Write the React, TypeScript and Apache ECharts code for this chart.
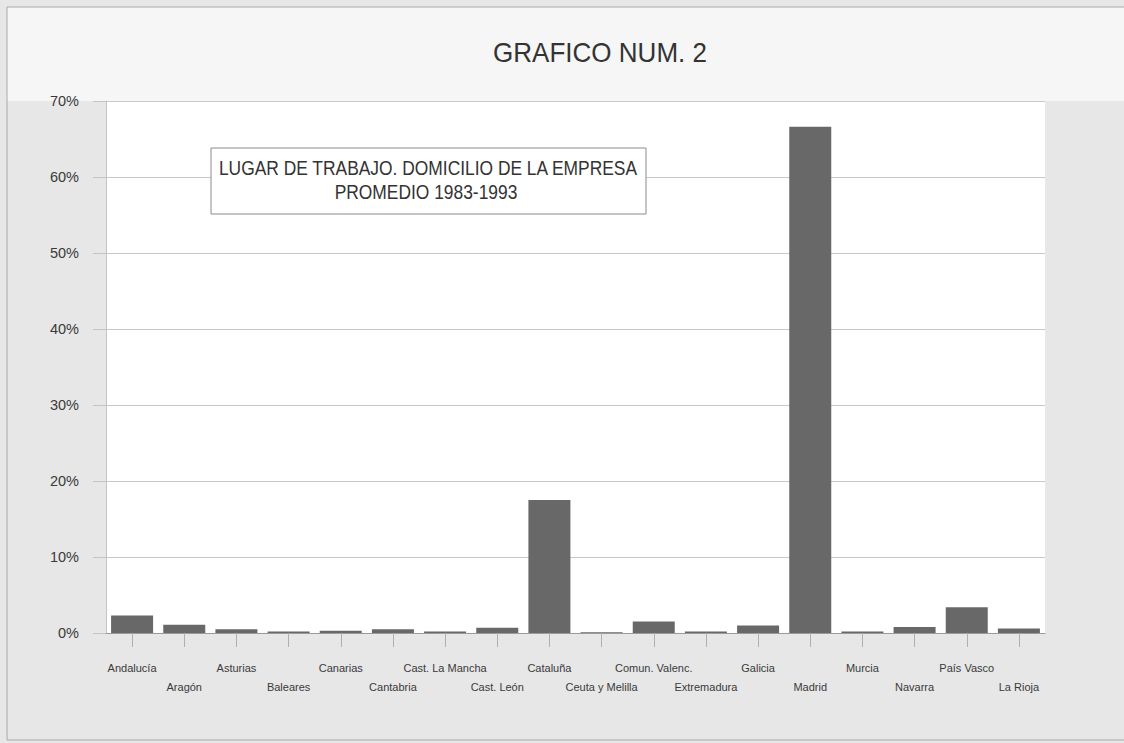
import React, { useEffect, useRef } from "react";
import * as echarts from "echarts";

const categories = [
  "Andalucía",
  "Aragón",
  "Asturias",
  "Baleares",
  "Canarias",
  "Cantabria",
  "Cast. La Mancha",
  "Cast. León",
  "Cataluña",
  "Ceuta y Melilla",
  "Comun. Valenc.",
  "Extremadura",
  "Galicia",
  "Madrid",
  "Murcia",
  "Navarra",
  "País Vasco",
  "La Rioja",
];
const values = [2.3, 1.1, 0.5, 0.2, 0.3, 0.5, 0.2, 0.7, 17.5, 0.1, 1.5, 0.2, 1.0, 66.6, 0.2, 0.8, 3.4, 0.6];

const chartTitle = "GRAFICO NUM. 2";
const boxLines = ["LUGAR DE TRABAJO. DOMICILIO DE LA EMPRESA", "PROMEDIO 1983-1993"];

const SANS = "'Liberation Sans', Arial, sans-serif";

export default function App() {
  const ref = useRef<HTMLDivElement>(null);
  useEffect(() => {
    document.body.style.margin = "0";
    const chart = echarts.init(ref.current!, null, { renderer: "svg" });
    chart.setOption({
      animation: false,
      backgroundColor: "#e7e7e7",
      graphic: [
        { type: "rect", z: -100, shape: { x: 7, y: 7, width: 1130, height: 94 }, style: { fill: "#f6f6f6" } },
        { type: "rect", z: -99, shape: { x: 7, y: 7, width: 1130, height: 733 }, style: { fill: "none", stroke: "#a8a8a8", lineWidth: 1 } },
        {
          type: "text",
          z: 100,
          x: 600,
          y: 53,
          scaleX: 0.93,
          style: { text: chartTitle, fontFamily: SANS, fontSize: 28, fill: "#333", align: "center", verticalAlign: "middle" },
        },
        { type: "rect", z: 100, shape: { x: 211, y: 148, width: 435, height: 66 }, style: { fill: "#fff", stroke: "#8a8a8a", lineWidth: 1 } },
        {
          type: "text",
          z: 101,
          x: 428,
          y: 168,
          scaleX: 0.87,
          style: { text: boxLines[0], fontFamily: SANS, fontSize: 20, fill: "#333", align: "center", verticalAlign: "middle" },
        },
        {
          type: "text",
          z: 101,
          x: 426,
          y: 192,
          scaleX: 0.87,
          style: { text: boxLines[1], fontFamily: SANS, fontSize: 20, fill: "#333", align: "center", verticalAlign: "middle" },
        },
      ],
      grid: { left: 106, right: 79, top: 101, bottom: 110, show: true, backgroundColor: "#ffffff", borderWidth: 0 },
      xAxis: {
        type: "category",
        data: categories,
        axisLine: { show: true, lineStyle: { color: "#9a9a9a" } },
        axisTick: { show: true, alignWithLabel: true, length: 14, lineStyle: { color: "#b0b0b0" } },
        axisLabel: {
          interval: 0,
          hideOverlap: false,
          margin: 25,
          fontFamily: SANS,
          fontSize: 11,
          lineHeight: 19,
          color: "#3a3a3a",
          formatter: (v: string, i: number) => (i % 2 ? "\n" + v : v),
        },
      },
      yAxis: {
        type: "value",
        min: 0,
        max: 70,
        interval: 10,
        axisLine: { show: true, lineStyle: { color: "#c4c4c4" } },
        axisTick: { show: true, length: 13, lineStyle: { color: "#c4c4c4" } },
        splitLine: { show: true, lineStyle: { color: "#c8c8c8" } },
        axisLabel: { formatter: "{value}%", margin: 27, fontFamily: SANS, fontSize: 14.5, color: "#3a3a3a" },
      },
      series: [
        {
          type: "bar",
          data: values,
          barWidth: 42,
          itemStyle: { color: "#686868" },
        },
      ],
    });
    return () => chart.dispose();
  }, []);
  return <div ref={ref} style={{ width: 1124, height: 743 }} />;
}
